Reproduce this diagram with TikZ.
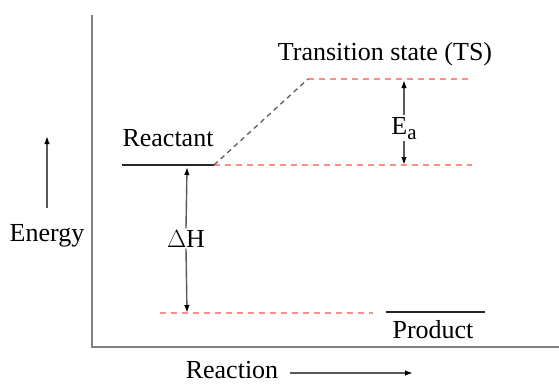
\documentclass[tikz,border=0pt]{standalone}
\usepackage{fontspec}
\setmainfont{Liberation Serif}
\usetikzlibrary{arrows.meta}
\begin{document}
\begin{tikzpicture}[x=1pt,y=-1pt,
  lbl/.style={font=\fontsize{26}{30}\selectfont, anchor=base, inner sep=1.5pt},
  axisline/.style={draw=black!50, line width=1.8pt},
  level/.style={draw=black!85, line width=2pt},
  reddash/.style={draw=red!45, line width=1.6pt, dash pattern=on 6pt off 5pt},
  graydash/.style={draw=black!60, line width=1.4pt, dash pattern=on 5pt off 4pt},
  arr/.style={draw=black!65, line width=1.4pt, -{Latex[length=8pt,width=5.5pt,color=black]}}]
\useasboundingbox (0,0) rectangle (559,383);
% axes
\coordinate (axtop) at (92,15);
\coordinate (axorig) at (92,347);
\coordinate (axright) at (559,347);
\draw[axisline] (axtop) -- (axorig) -- (axright);
% energy label and arrow
\node[lbl] (energy) at (47,241) {Energy};
\coordinate (enbot) at (47,208);
\coordinate (entop) at (47,136);
\draw[arr] (enbot) -- (entop);
% reaction label and arrow
\node[lbl, inner sep=0pt] (reaction) at (232,378) {Reaction};
\coordinate (rxs) at (290,373);
\coordinate (rxe) at (413,373);
\draw[arr] (rxs) -- (rxe);
% reactant
\coordinate (r0) at (122,165);
\coordinate (r1) at (214,165);
\coordinate (r2) at (472,165);
\draw[level] (r0) -- (r1);
\draw[reddash] (r1) -- (r2);
\node[lbl] (reactant) at (168,146) {Reactant};
% transition state
\coordinate (ts0) at (308,79);
\coordinate (ts1) at (470,79);
\draw[reddash] (ts0) -- (ts1);
\draw[graydash] (r1) -- (ts0);
\node[lbl] (tslabel) at (385,60) {Transition state (TS)};
% Ea
\node[lbl] (ea) at (404,134) {E\raisebox{-5pt}{\fontsize{21}{24}\selectfont a}};
\coordinate (eatop) at (404,80);
\coordinate (eabot) at (404,165);
\draw[arr] (ea.north) -- (eatop);
\draw[arr] (ea.south) -- (eabot);
% product
\coordinate (p0) at (160,313);
\coordinate (p1) at (373,313);
\draw[reddash] (p0) -- (p1);
\coordinate (pr0) at (386,312);
\coordinate (pr1) at (485,312);
\draw[level] (pr0) -- (pr1);
\node[lbl] (product) at (433,338) {Product};
% Delta H
\node[lbl] (dh) at (186,247) {$\Delta$H};
\coordinate (dhtop) at (187,167);
\coordinate (dhbot) at (187,313);
\draw[arr] (dh.north) -- (dhtop);
\draw[arr] (dh.south) -- (dhbot);
\end{tikzpicture}
\end{document}
